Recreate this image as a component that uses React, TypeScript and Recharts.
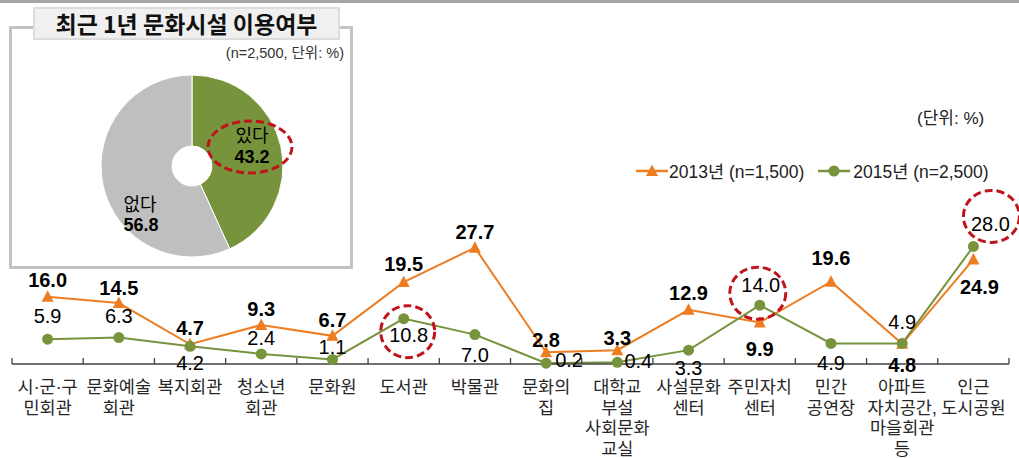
import React from 'react';
import { LineChart, Line, XAxis, YAxis, Legend, LabelList, PieChart, Pie, Cell } from 'recharts';

// line chart data
const categories = [
  '시·군·구\n민회관',
  '문화예술\n회관',
  '복지회관',
  '청소년\n회관',
  '문화원',
  '도서관',
  '박물관',
  '문화의\n집',
  '대학교\n부설\n사회문화\n교실',
  '사설문화\n센터',
  '주민자치\n센터',
  '민간\n공연장',
  '아파트\n자치공간,\n마을회관\n등',
  '인근\n도시공원',
];
const values2013 = [16.0, 14.5, 4.7, 9.3, 6.7, 19.5, 27.7, 2.8, 3.3, 12.9, 9.9, 19.6, 4.8, 24.9];
const values2015 = [5.9, 6.3, 4.2, 2.4, 1.1, 10.8, 7.0, 0.2, 0.4, 3.3, 14.0, 4.9, 4.9, 28.0];
const seriesNames = ['2013년 (n=1,500)', '2015년 (n=2,500)'];

// inset pie data
const pieNames = ['있다', '없다'];
const pieValues = [43.2, 56.8];

const insetTitle = '최근 1년 문화시설 이용여부';
const insetNote = '(n=2,500, 단위: %)';
const unitNote = '(단위: %)';

const ORANGE = '#EE7D22';
const GREEN = '#77933C';
const GRAY = '#BFBFBF';
const RED = '#C0141C';
const FONT = "'Liberation Sans', Arial, 'Noto Sans CJK KR', sans-serif";

// label placement (dx, dy from the point), style only
const orangeLabelOffset = [
  [0, -17], [0, -15], [0, -16], [0, -16], [0, -16], [0, -18], [0, -16],
  [0, -12], [0, -12], [0, -17], [0, 27], [0, -24], [0, 21], [6, 28],
];
const greenLabelOffset = [
  [0, -23], [0, -22], [0, 17], [0, -16], [0, -12], [5, 16], [0, 20],
  [23, -3], [21, -1], [0, 18], [1, -20], [0, 20], [0, -21], [17, -22],
];
// dashed ellipses around some 2015 labels: [dx, dy, rx, ry] from the point
const greenHighlight: Record<number, number[]> = {
  5: [4, 13, 27, 26],
  10: [-2, -12, 28, 26],
  13: [18, -30, 28, 26],
};

const CHART_W = 1019;
const CHART_H = 458;
const MARGIN = { top: 238, right: 10, bottom: 0, left: 12 };
const STEP = (CHART_W - MARGIN.left - MARGIN.right) / categories.length;

const rows = categories.map((name, i) => ({
  x: i + 0.5,
  name,
  y2013: values2013[i],
  y2015: values2015[i],
}));
const centerTicks = categories.map((_, i) => i + 0.5);

const pieData = pieNames.map((name, i) => ({ name, value: pieValues[i] }));
const PIE_CX = 183;
const PIE_CY = 140;

function Triangle(props: any) {
  const { cx, cy } = props;
  if (cx == null || cy == null) return null;
  return <path d={`M${cx},${cy - 6.5} L${cx + 6},${cy + 5} L${cx - 6},${cy + 5} Z`} fill={ORANGE} />;
}

function Dot(props: any) {
  const { cx, cy } = props;
  if (cx == null || cy == null) return null;
  return <circle cx={cx} cy={cy} r={5.5} fill={GREEN} />;
}

function CategoryTick(props: any) {
  const { x, y, payload } = props;
  const idx = Math.floor(payload.value);
  const lines = categories[idx].split('\n');
  return (
    <g>
      <line x1={x - STEP / 2} x2={x - STEP / 2} y1={y} y2={y - 6} stroke="#404040" strokeWidth={1.3} />
      {idx === categories.length - 1 && (
        <line x1={x + STEP / 2} x2={x + STEP / 2} y1={y} y2={y - 6} stroke="#404040" strokeWidth={1.3} />
      )}
      <text textAnchor="middle" fontSize={17.5} fill="#262626" fontFamily={FONT}>
        {lines.map((l, i) => (
          <tspan key={i} x={x} y={y + 29 + i * 20.5}>{l}</tspan>
        ))}
      </text>
    </g>
  );
}

function orangeLabel(props: any) {
  const { x, y, value, index } = props;
  const [dx, dy] = orangeLabelOffset[index];
  return (
    <text x={x + dx} y={y + dy} textAnchor="middle" dominantBaseline="central"
      fontSize={20} fontWeight="bold" fill="#000" fontFamily={FONT}>
      {Number(value).toFixed(1)}
    </text>
  );
}

function greenLabel(props: any) {
  const { x, y, value, index } = props;
  const [dx, dy] = greenLabelOffset[index];
  const hl = greenHighlight[index];
  return (
    <g>
      <text x={x + dx} y={y + dy} textAnchor="middle" dominantBaseline="central"
        fontSize={20} fill="#000" fontFamily={FONT}>
        {Number(value).toFixed(1)}
      </text>
      {hl && (
        <ellipse cx={x + hl[0]} cy={y + hl[1]} rx={hl[2]} ry={hl[3]} fill="none"
          stroke={RED} strokeWidth={3} strokeDasharray="8 4" />
      )}
    </g>
  );
}

function pieLabel(props: any) {
  const { index, name, value } = props;
  const pos = index === 0 ? [60, -30, 60, -9] : [-52, 39, -51, 59];
  return (
    <g>
      <text x={PIE_CX + pos[0]} y={PIE_CY + pos[1]} textAnchor="middle" dominantBaseline="central"
        fontSize={18} fill="#000" fontFamily={FONT}>{name}</text>
      <text x={PIE_CX + pos[2]} y={PIE_CY + pos[3]} textAnchor="middle" dominantBaseline="central"
        fontSize={18} fontWeight="bold" fill="#000" fontFamily={FONT}>{Number(value).toFixed(1)}</text>
      {index === 0 && (
        <ellipse cx={PIE_CX + 58} cy={PIE_CY - 19} rx={42} ry={26} fill="none"
          stroke={RED} strokeWidth={3} strokeDasharray="8 4" />
      )}
    </g>
  );
}

function LegendContent() {
  return (
    <div style={{ display: 'flex', alignItems: 'center', fontFamily: FONT, fontSize: 17.5, color: '#222', whiteSpace: 'nowrap' }}>
      <svg width={32} height={16}>
        <line x1={0} x2={32} y1={8} y2={8} stroke={ORANGE} strokeWidth={2.5} />
        <Triangle cx={16} cy={8} />
      </svg>
      <span style={{ marginLeft: 1 }}>{seriesNames[0]}</span>
      <svg width={32} height={16} style={{ marginLeft: 14 }}>
        <line x1={0} x2={32} y1={8} y2={8} stroke={GREEN} strokeWidth={2.5} />
        <Dot cx={16} cy={8} />
      </svg>
      <span style={{ marginLeft: 3 }}>{seriesNames[1]}</span>
    </div>
  );
}

export default function App() {
  return (
    <div style={{ position: 'fixed', left: 0, top: 0, width: CHART_W, height: CHART_H, background: '#fff', overflow: 'hidden', fontFamily: FONT }}>
      <div style={{ position: 'absolute', left: 0, top: 0, width: CHART_W, height: 3, background: '#a6a6a6' }} />

      <LineChart width={CHART_W} height={CHART_H} data={rows} margin={MARGIN}>
        <XAxis xAxisId="a" dataKey="x" type="number" domain={[0, categories.length]} ticks={centerTicks}
          interval={0} tickLine={false} tickSize={0} tickMargin={0} height={94}
          axisLine={{ stroke: '#404040', strokeWidth: 1.5 }} tick={<CategoryTick />} />
        <YAxis domain={[0, 30]} hide />
        <Legend verticalAlign="middle" align="center" layout="horizontal"
          wrapperStyle={{ top: 158, left: 636, width: 380, height: 20 }} content={<LegendContent />} />
        <Line xAxisId="a" dataKey="y2013" name={seriesNames[0]} stroke={ORANGE} strokeWidth={2}
          dot={<Triangle />} activeDot={false} isAnimationActive={false}>
          <LabelList dataKey="y2013" content={orangeLabel} />
        </Line>
        <Line xAxisId="a" dataKey="y2015" name={seriesNames[1]} stroke={GREEN} strokeWidth={2}
          dot={<Dot />} activeDot={false} isAnimationActive={false}>
          <LabelList dataKey="y2015" content={greenLabel} />
        </Line>
      </LineChart>

      <div style={{ position: 'absolute', left: 917, top: 104, fontSize: 17, color: '#222' }}>{unitNote}</div>

      <div style={{ position: 'absolute', left: 9, top: 26, width: 344, height: 243, border: '3px solid #c3c3c3', boxSizing: 'border-box', background: '#fff' }} />
      <div style={{ position: 'absolute', left: 9, top: 26, width: 344, height: 243 }}>
        <PieChart width={344} height={243} margin={{ top: 0, right: 0, bottom: 0, left: 0 }}>
          <Pie data={pieData} dataKey="value" nameKey="name" cx={PIE_CX} cy={PIE_CY}
            innerRadius={20} outerRadius={91} startAngle={90} endAngle={-270}
            stroke="#fff" strokeWidth={1} label={pieLabel} labelLine={false} isAnimationActive={false}>
            <Cell fill={GREEN} />
            <Cell fill={GRAY} />
          </Pie>
        </PieChart>
      </div>
      <div style={{ position: 'absolute', left: 33, top: 7, width: 307, height: 33, boxSizing: 'border-box', background: '#f0f0f0', border: '2px solid #dcdcdc', fontSize: 23, fontWeight: 'bold', color: '#111', textAlign: 'center', lineHeight: '28px', fontFamily: "'Noto Sans CJK KR', sans-serif", whiteSpace: 'nowrap' }}>
        {insetTitle}
      </div>
      <div style={{ position: 'absolute', right: CHART_W - 344, top: 41, fontSize: 14.5, color: '#333', whiteSpace: 'nowrap' }}>{insetNote}</div>
    </div>
  );
}
